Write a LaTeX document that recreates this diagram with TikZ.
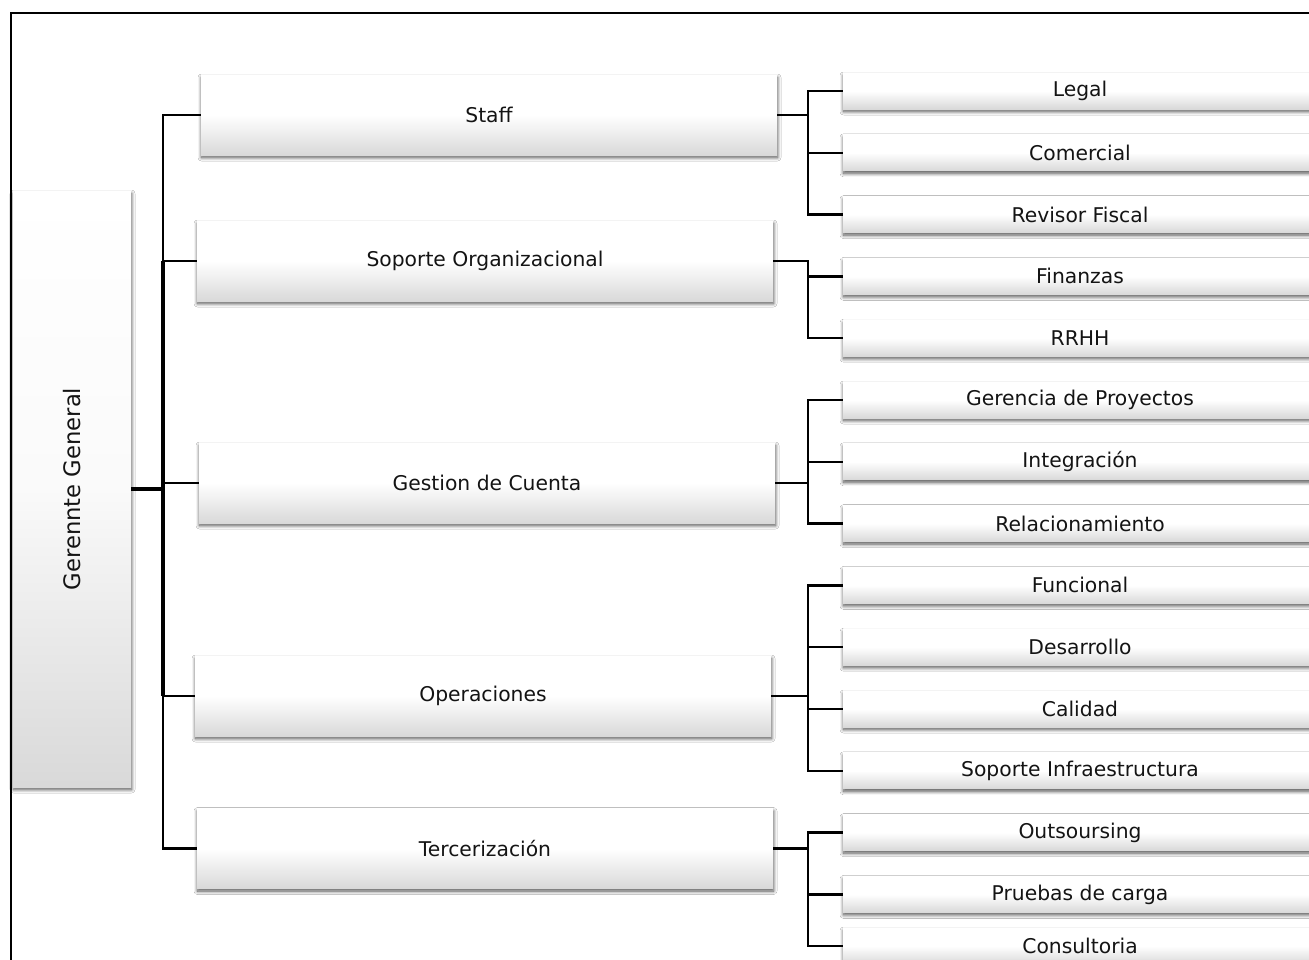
\documentclass[tikz,border=0pt]{standalone}
\usepackage{fontspec}
\setmainfont{DejaVu Sans}
\usetikzlibrary{shadows.blur}
\begin{document}
\begin{tikzpicture}[x=1pt,y=-1pt,
  box/.style={rectangle, top color=white, bottom color=black!15, middle color=white,
    text=black!92, font=\fontsize{20.3}{24}\selectfont, inner sep=0pt,
    blur shadow={shadow xshift=0.5pt, shadow yshift=-2.5pt, shadow blur radius=3.5pt, shadow blur steps=12, shadow opacity=70}},
  lone/.style={box, minimum width=576pt, minimum height=80pt},
  ltwo/.style={box, minimum width=474pt, minimum height=36pt},
  conn/.style={line width=2.4pt, black},
  trunk/.style={line width=3.2pt, black}]
\useasboundingbox (0,0) rectangle (1309,959);
\clip (0,0) rectangle (1309,959);
\fill[white] (0,0) rectangle (1309,959);
\draw[line width=2.4pt] (11,13) rectangle (1340,990);

% root
\node[box, minimum width=118pt, minimum height=596pt, middle color=black!2] (gg) at (72,489)
  {\rotatebox{90}{\fontsize{22.7}{27}\selectfont Gerennte General}};

% level 1
\node[lone] (staff) at (489,115) {Staff};
\node[lone] (soporg) at (485,261) {Soporte Organizacional};
\node[lone] (gestion) at (487,483) {Gestion de Cuenta};
\node[lone] (oper) at (483,696) {Operaciones};
\node[lone] (terc) at (485,848.5) {Tercerización};

% level 2
\node[ltwo] (legal) at (1080,91) {Legal};
\node[ltwo] (comercial) at (1080,152.8) {Comercial};
\node[ltwo] (revisor) at (1080,214.6) {Revisor Fiscal};
\node[ltwo] (finanzas) at (1080,276.4) {Finanzas};
\node[ltwo] (rrhh) at (1080,338.2) {RRHH};
\node[ltwo] (gerencia) at (1080,400) {Gerencia de Proyectos};
\node[ltwo] (integracion) at (1080,461.8) {Integración};
\node[ltwo] (relac) at (1080,523.6) {Relacionamiento};
\node[ltwo] (funcional) at (1080,585.4) {Funcional};
\node[ltwo] (desarrollo) at (1080,647.2) {Desarrollo};
\node[ltwo] (calidad) at (1080,709) {Calidad};
\node[ltwo] (soinf) at (1080,770.8) {Soporte Infraestructura};
\node[ltwo] (outs) at (1080,832.6) {Outsoursing};
\node[ltwo] (pruebas) at (1080,894.4) {Pruebas de carga};
\node[ltwo] (consult) at (1080,946) {Consultoria};

% root connectors
\coordinate (tr) at (163,489);
\draw[trunk] (gg.east) -- (tr);
\foreach \n in {staff,soporg,gestion,oper,terc}
  \draw[conn] (tr) |- (\n.west);
\draw[trunk] (tr |- soporg.west) -- (tr |- oper.west);

% level 2 connectors
\foreach \p/\c in {staff/legal,staff/comercial,staff/revisor,
  soporg/finanzas,soporg/rrhh,
  gestion/gerencia,gestion/integracion,gestion/relac,
  oper/funcional,oper/desarrollo,oper/calidad,oper/soinf,
  terc/outs,terc/pruebas,terc/consult}
  \draw[conn] (\p.east) -| ([xshift=-35pt]\c.west) -- (\c.west);
\end{tikzpicture}
\end{document}
